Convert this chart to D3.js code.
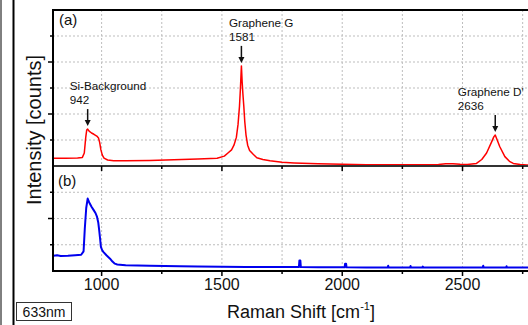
<!DOCTYPE html>
<html>
<head>
<meta charset="utf-8">
<script src="https://cdn.jsdelivr.net/npm/d3@7"></script>
<style>
  html, body { margin: 0; padding: 0; background: #fff; }
  svg { display: block; font-family: "Liberation Sans", Arial, sans-serif; }
</style>
</head>
<body>
<div id="chart"></div>
<script>
// Raman spectrum (a), graphene on Si, arbitrary units
const shiftA = [800, 850, 900, 920, 928, 934, 938, 942, 948, 958, 968, 980, 987, 992, 997, 1003, 1010, 1025, 1050, 1100, 1200, 1300, 1400, 1480, 1510, 1525, 1540, 1550, 1560, 1567, 1573, 1577, 1581, 1584, 1587, 1591, 1595, 1600, 1607, 1615, 1630, 1645, 1670, 1700, 1750, 1800, 1900, 2000, 2100, 2200, 2300, 2400, 2430, 2460, 2490, 2520, 2558, 2580, 2600, 2621, 2630, 2636, 2642, 2655, 2676, 2695, 2711, 2740, 2767, 2800];
const countsA = [0.30, 0.30, 0.31, 0.33, 0.50, 1.10, 1.38, 1.42, 1.34, 1.27, 1.22, 1.15, 1.08, 0.90, 0.62, 0.42, 0.30, 0.23, 0.20, 0.20, 0.21, 0.24, 0.27, 0.30, 0.38, 0.50, 0.62, 0.80, 1.10, 1.60, 2.30, 3.00, 3.85, 3.25, 2.80, 2.30, 1.70, 1.20, 0.80, 0.60, 0.45, 0.32, 0.25, 0.20, 0.14, 0.12, 0.09, 0.07, 0.05, 0.05, 0.05, 0.06, 0.09, 0.09, 0.07, 0.06, 0.10, 0.25, 0.50, 0.93, 1.12, 1.19, 1.05, 0.74, 0.36, 0.18, 0.10, 0.06, 0.04, 0.04];

// Raman spectrum (b), bare Si
const shiftB = [800, 815, 830, 860, 890, 915, 925, 930, 936, 942, 948, 958, 967, 975, 981, 986, 990, 994, 997, 1002, 1007, 1020, 1035, 1045, 1055, 1065, 1076, 1100, 1150, 1200, 1325, 1400, 1500, 1600, 1700, 1820, 1822, 1826, 1828, 1900, 2010, 2012, 2016, 2018, 2100, 2189, 2191, 2193, 2282, 2284, 2286, 2333, 2335, 2337, 2500, 2584, 2586, 2588, 2681, 2683, 2685, 2800];
const countsB = [0.58, 0.60, 0.57, 0.58, 0.60, 0.62, 0.75, 1.60, 2.40, 2.76, 2.62, 2.45, 2.32, 2.20, 2.06, 1.85, 1.55, 1.20, 0.92, 0.80, 0.73, 0.60, 0.47, 0.36, 0.28, 0.25, 0.24, 0.22, 0.21, 0.20, 0.18, 0.17, 0.16, 0.15, 0.15, 0.15, 0.40, 0.40, 0.15, 0.14, 0.14, 0.28, 0.28, 0.14, 0.13, 0.13, 0.20, 0.13, 0.13, 0.19, 0.13, 0.13, 0.17, 0.13, 0.13, 0.13, 0.20, 0.13, 0.13, 0.18, 0.13, 0.13];

const peakNames = ["Si-Background", "Graphene G", "Graphene D'"];
const peakShifts = [942, 1581, 2636];
const peakCounts = [1.42, 3.85, 1.19];

const xMajorTicks = [1000, 1500, 2000, 2500];
const xGridTicks = [1000, 1250, 1500, 1750, 2000, 2250, 2500, 2750];

const W = 528, H = 325;
const plotLeft = 53, plotTop = 10, plotMid = 166, plotBottom = 271;

const svg = d3.select("#chart").append("svg")
  .attr("width", W).attr("height", H);

const x = d3.scaleLinear().domain([800, 2800]).range([53.5, 534.7]);
const yA = d3.scaleLinear().domain([0, 6]).range([plotMid, plotTop]);
const yB = d3.scaleLinear().domain([0, 4]).range([plotBottom, plotMid]);

// page frame lines
svg.append("line").attr("x1", 1).attr("x2", 1).attr("y1", 0).attr("y2", H)
  .attr("stroke", "#000").attr("stroke-width", 1);
svg.append("line").attr("x1", 13.5).attr("x2", 13.5).attr("y1", 0).attr("y2", H)
  .attr("stroke", "#000").attr("stroke-width", 2);

// grid
const grid = svg.append("g").attr("stroke", "#bdbdbd").attr("stroke-width", 1)
  .attr("stroke-dasharray", "2,2");
xGridTicks.forEach(t => {
  grid.append("line").attr("x1", x(t)).attr("x2", x(t)).attr("y1", plotTop).attr("y2", plotBottom);
});
d3.range(1, 6).forEach(v => {
  grid.append("line").attr("x1", plotLeft).attr("x2", W).attr("y1", yA(v)).attr("y2", yA(v));
});
d3.range(1, 4).forEach(v => {
  grid.append("line").attr("x1", plotLeft).attr("x2", W).attr("y1", yB(v)).attr("y2", yB(v));
});

// spectra
const lineA = d3.line().x((d, i) => x(shiftA[i])).y(d => yA(d));
const lineB = d3.line().x((d, i) => x(shiftB[i])).y(d => yB(d));

svg.append("path").datum(countsA).attr("d", lineA)
  .attr("fill", "none").attr("stroke", "#ff0000").attr("stroke-width", 1.5)
  .attr("stroke-linejoin", "round");
svg.append("path").datum(countsB).attr("d", lineB)
  .attr("fill", "none").attr("stroke", "#0000ee").attr("stroke-width", 2)
  .attr("stroke-linejoin", "round");

// axes
const axes = svg.append("g").attr("stroke", "#000");
axes.append("line").attr("x1", plotLeft).attr("x2", W).attr("y1", plotTop).attr("y2", plotTop).attr("stroke-width", 2);
axes.append("line").attr("x1", plotLeft).attr("x2", W).attr("y1", plotMid).attr("y2", plotMid).attr("stroke-width", 2).attr("stroke", "#333");
axes.append("line").attr("x1", plotLeft).attr("x2", W).attr("y1", plotBottom).attr("y2", plotBottom).attr("stroke-width", 2);
axes.append("line").attr("x1", plotLeft).attr("x2", plotLeft).attr("y1", plotTop - 1).attr("y2", plotBottom + 1).attr("stroke-width", 2);

xGridTicks.forEach(t => {
  const len = xMajorTicks.includes(t) ? 5 : 3;
  [plotMid, plotBottom].forEach(y0 => {
    axes.append("line").attr("x1", x(t)).attr("x2", x(t)).attr("y1", y0).attr("y2", y0 + len).attr("stroke-width", 1.5);
  });
});
d3.range(1, 6).forEach(v => {
  const len = v % 2 === 0 ? 5 : 3;
  axes.append("line").attr("x1", plotLeft - len).attr("x2", plotLeft).attr("y1", yA(v)).attr("y2", yA(v)).attr("stroke-width", 1.5);
});
d3.range(1, 4).forEach(v => {
  const len = v % 2 === 0 ? 5 : 3;
  axes.append("line").attr("x1", plotLeft - len).attr("x2", plotLeft).attr("y1", yB(v)).attr("y2", yB(v)).attr("stroke-width", 1.5);
});

// tick labels
svg.append("g").selectAll("text").data(xMajorTicks).join("text")
  .attr("x", d => x(d)).attr("y", 290).attr("text-anchor", "middle")
  .attr("font-size", 16).attr("fill", "#111").text(d => d);

// panel letters
svg.append("text").attr("x", 59).attr("y", 25).attr("font-size", 15).attr("fill", "#111").text("(a)");
svg.append("text").attr("x", 58).attr("y", 186).attr("font-size", 15).attr("fill", "#111").text("(b)");

// peak annotations
const textDx = [-18, -12.4, -37.4];
peakNames.forEach((name, i) => {
  const px = x(peakShifts[i]);
  const py = yA(peakCounts[i]);
  const tip = py - 3;
  const tail = tip - 17;
  svg.append("line").attr("x1", px).attr("x2", px).attr("y1", tail).attr("y2", tip - 4)
    .attr("stroke", "#111").attr("stroke-width", 1.5);
  svg.append("path")
    .attr("d", `M${px - 3},${tip - 6}L${px + 3},${tip - 6}L${px},${tip}Z`)
    .attr("fill", "#111");
  const t = svg.append("text").attr("font-size", 11.7).attr("fill", "#111");
  t.append("tspan").attr("x", px + textDx[i]).attr("y", tail - 19).text(name);
  t.append("tspan").attr("x", px + textDx[i]).attr("y", tail - 5).text(peakShifts[i]);
});

// axis titles
const xt = svg.append("text").attr("x", 301).attr("y", 318).attr("text-anchor", "middle")
  .attr("font-size", 18).attr("fill", "#111");
xt.append("tspan").text("Raman Shift [cm");
xt.append("tspan").attr("font-size", 11).attr("dy", -8).text("-1");
xt.append("tspan").attr("dy", 8).text("]");

svg.append("text").attr("transform", "translate(41,130) rotate(-90)")
  .attr("text-anchor", "middle").attr("font-size", 20).attr("fill", "#111")
  .text("Intensity [counts]");

// laser label box
svg.append("rect").attr("x", 16.5).attr("y", 302.5).attr("width", 55).attr("height", 18)
  .attr("fill", "#fff").attr("stroke", "#333").attr("stroke-width", 1);
svg.append("text").attr("x", 44).attr("y", 317).attr("text-anchor", "middle")
  .attr("font-size", 14).attr("fill", "#111").text("633nm");
</script>
</body>
</html>
